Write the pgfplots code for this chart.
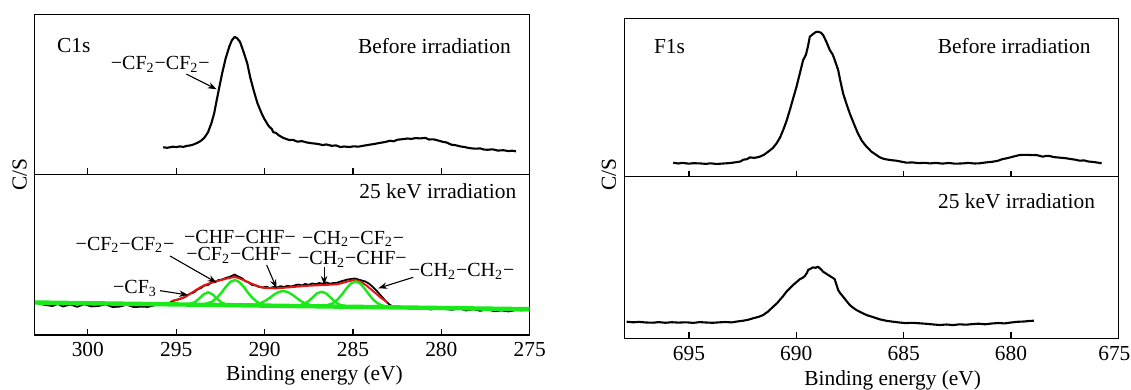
\documentclass[border=0pt]{standalone}
\usepackage{fontspec}
\setmainfont{Liberation Serif}
\usepackage{pgfplots}
\pgfplotsset{compat=1.18}
\usetikzlibrary{arrows.meta}
\definecolor{fitgreen}{RGB}{25,232,25}
\definecolor{fitred}{RGB}{232,20,20}
\newcommand{\fs}{\fontsize{10.7}{12.8}\selectfont}
\newcommand{\fc}{\fontsize{10}{12}\selectfont}
\tikzset{
  ann/.style={font=\fs},
  chem/.style={font=\fc, inner sep=0pt},
  arr/.style={-{Stealth[length=4.5pt,width=3.2pt]}, line width=0.55pt},
}
\pgfplotsset{
  panel/.style={
    scale only axis,
    anchor=north west,
    axis line style={line width=0.7pt},
    ytick=\empty,
    tick style={line width=0.6pt, black},
    major tick length=3pt,
    tick align=inside,
    xtick pos=bottom,
    x dir=reverse,
    /pgf/number format/assume math mode=true,
    tick label style={font=\fs},
    label style={font=\fs},
    xticklabel style={anchor=base, yshift=-10.85pt},
  },
  leftp/.style={panel, width=247.45pt, xmin=275, xmax=303, xtick={300,295,290,285,280,275}},
  rightp/.style={panel, width=246.95pt, xmin=675, xmax=698, xtick={695,690,685,680,675}},
  dat/.style={black, line width=1.05pt, line join=round},
}
\begin{document}
\begin{tikzpicture}
\path[use as bounding box] (0,0) rectangle (565.5pt,-195pt);

% ---------------- C1s before ----------------
\begin{axis}[leftp, at={(17.4pt,-7.35pt)}, height=79.8pt, ymin=0, ymax=159.6, xticklabels={}]
\addplot[dat] coordinates {
(295.74,27.0)(295.5,26.5)(295.2,27.6)(295.0,27.2)(294.8,27.9)(294.6,27.4)(294.4,28.4)(294.2,28.9)
(294.02,29.8)(293.8,31.5)(293.6,33.5)(293.41,36.5)(293.2,42)(293.01,51)(292.85,61)(292.71,74)
(292.55,88)(292.4,101)(292.2,116)(291.99,128)(291.85,134)(291.69,137.5)(291.55,136)(291.39,132.5)
(291.2,123)(290.98,111)(290.8,96)(290.57,81)(290.4,71)(290.17,61)(290.0,55)(289.76,48)(289.6,45.5)
(289.5,42)(289.36,41.5)(289.2,39)(288.95,36.5)(288.8,35.5)(288.6,34.2)(288.4,34.5)(288.14,32.6)
(287.9,33.2)(287.6,31.8)(287.3,31.0)(287.0,30.4)(286.72,29.3)(286.5,29.8)(286.2,28.5)(285.95,28.9)
(285.71,27.2)(285.5,27.8)(285.2,27.3)(284.95,28.0)(284.70,27.6)(284.4,28.6)(284.1,29.5)(283.8,30.3)
(283.48,31.4)(283.2,32.2)(282.9,33.6)(282.7,33.0)(282.47,34.6)(282.2,35.1)(281.9,35.8)(281.7,35.4)
(281.45,36.2)(281.2,35.9)(280.9,36.4)(280.7,34.8)(280.44,35.0)(280.2,33.9)(279.9,32.4)(279.7,31.8)
(279.43,29.6)(279.2,29.1)(278.9,27.8)(278.7,27.3)(278.41,26.2)(278.1,25.6)(277.8,25.9)(277.6,24.8)
(277.39,24.5)(277.1,25.0)(276.8,23.7)(276.5,24.1)(276.2,23.2)(276.0,23.6)(275.78,23.0)
};
\node[ann, anchor=base west] at (axis description cs:0.0307,0.766) {C1s};
\node[ann, anchor=base east] at (axis description cs:0.976,0.756) {Before irradiation};
\node[chem, anchor=base] at (axis cs:295.9,104.8) {−CF\textsubscript{2}−CF\textsubscript{2}−};
\draw[arr] (axis cs:294.43,100.3) -- (axis cs:292.71,85);
\end{axis}

% ---------------- C1s after ----------------
\begin{axis}[leftp, at={(17.4pt,-87.15pt)}, height=80.35pt, ymin=0, ymax=160.7,
  xlabel={Binding energy (eV)},
  xlabel style={at={(axis description cs:0.565,0)}, anchor=base, yshift=-22.5pt}]
\addplot[dat, line width=0.9pt] coordinates {
(302.8,31.5)(302.4,30.0)(302.0,29.0)(301.7,31.0)(301.4,28.5)(301.0,30.5)(300.6,28.2)(300.2,30.8)
(299.8,28.6)(299.4,29.0)(299.0,30.6)(298.6,28.0)(298.2,28.4)(297.8,30.2)(297.4,27.9)(297.0,28.3)
(296.6,28.1)(296.2,29.8)(295.8,30.6)(295.4,32.0)(295.1,34.5)(294.8,36.0)(294.5,38.0)(294.2,41.5)
(294.0,42.5)(293.8,45.5)(293.6,47.0)(293.4,49.5)(293.2,50.0)(293.0,52.5)(292.8,53.0)(292.6,55.0)
(292.4,55.5)(292.2,57.0)(292.0,58.0)(291.8,59.5)(291.7,60.5)(291.5,58.5)(291.3,57.0)(291.1,54.0)
(290.9,52.5)(290.7,50.0)(290.5,49.5)(290.3,48.0)(290.1,47.5)(289.9,48.2)(289.7,47.0)(289.5,48.0)
(289.3,47.5)(289.1,48.8)(288.9,48.0)(288.7,49.2)(288.5,48.5)(288.3,49.5)(288.1,50.5)(287.9,49.6)
(287.7,51.0)(287.5,50.2)(287.3,51.5)(287.1,50.8)(286.9,52.0)(286.7,51.2)(286.5,52.5)(286.3,51.3)
(286.1,52.0)(285.9,52.2)(285.7,53.5)(285.5,54.5)(285.3,55.5)(285.1,56.0)(284.9,56.5)(284.7,55.5)
(284.5,54.5)(284.3,53.5)(284.1,51.5)(283.9,48.5)(283.7,45.0)(283.5,41.0)(283.3,37.0)(283.1,33.0)
(282.9,30.0)(282.6,27.5)(282.2,27.0)(281.8,27.8)(281.4,26.0)(281.0,27.4)(280.6,25.5)(280.2,27.0)
(279.8,26.0)(279.4,25.2)(279.0,26.6)(278.6,24.5)(278.2,25.8)(277.8,24.2)(277.4,25.5)(277.0,23.8)
(276.6,24.5)(276.2,23.6)(275.8,24.8)(275.4,24.6)
};
\addplot[fitred, line width=1pt, line join=round] coordinates {
(295.26,34)(294.9,35.5)(294.6,37.3)(294.3,40.2)(294.03,43.3)(293.75,46.4)(293.47,49.3)(293.15,51.5)
(292.81,53.3)(292.5,54.8)(292.24,56)(291.95,57.2)(291.68,58)(291.45,56.8)(291.2,55)(290.92,52.8)
(290.64,50.7)(290.36,48.8)(290.08,47.3)(289.7,46.8)(289.32,46.7)(288.95,47.2)(288.57,47.7)
(288.2,48.3)(287.81,49)(287.25,49.5)(286.68,50)(286.3,50.3)(285.92,50.7)(285.64,51.8)(285.36,53.3)
(285.1,54.4)(284.89,55)(284.65,53.8)(284.42,51.7)(284.2,49)(284.0,46)(283.8,43)(283.6,40)
(283.4,37)(283.2,34.5)(283.05,32.5)
};
\addplot[fitgreen, line width=2.2pt] coordinates {(303,32.5)(275,25.8)};
\addplot[fitgreen, line width=1.2pt, line join=round] coordinates {
(294.49,30.6)(294.19,31.2)(293.94,33.0)(293.69,36.6)(293.44,40.8)(293.19,42.7)(292.94,40.6)
(292.69,36.3)(292.44,32.6)(292.19,30.7)(291.89,30.0)};
\addplot[fitgreen, line width=1.2pt, line join=round] coordinates {
(293.78,30.4)(293.38,30.9)(292.98,33.2)(292.68,37.4)(292.43,42.6)(292.18,48.4)(291.93,53.2)
(291.68,55.0)(291.43,53.0)(291.18,48.2)(290.93,42.2)(290.68,36.9)(290.38,32.6)(289.98,30.1)(289.58,29.4)};
\addplot[fitgreen, line width=1.2pt, line join=round] coordinates {
(291.04,29.8)(290.64,30.2)(290.24,31.8)(289.94,34.4)(289.69,37.4)(289.44,40.7)(289.19,43.1)
(288.94,44.0)(288.69,43.0)(288.44,40.4)(288.19,37.1)(287.94,33.9)(287.64,31.2)(287.24,29.4)(286.84,28.8)};
\addplot[fitgreen, line width=1.2pt, line join=round] coordinates {
(288.47,29.1)(288.07,29.5)(287.77,31.0)(287.52,33.8)(287.27,37.8)(287.02,41.7)(286.77,43.3)
(286.52,41.6)(286.27,37.6)(286.02,33.4)(285.77,30.5)(285.47,28.9)(285.07,28.3)};
\addplot[fitgreen, line width=1.2pt, line join=round] coordinates {
(286.95,28.8)(286.55,29.3)(286.15,31.6)(285.85,35.8)(285.60,41.0)(285.35,47.0)(285.10,51.7)
(284.85,53.6)(284.60,51.6)(284.35,46.7)(284.10,40.7)(283.85,35.3)(283.55,31.0)(283.15,28.5)(282.75,27.8)};
\node[ann, anchor=base east] at (axis description cs:0.987,0.848) {25 keV irradiation};
\node[chem, anchor=base] at (axis cs:297.89,85) {−CF\textsubscript{2}−CF\textsubscript{2}−};
\node[chem, anchor=base] at (axis cs:291.39,91.5) {−CHF−CHF−};
\node[chem, anchor=base] at (axis cs:291.45,74.2) {−CF\textsubscript{2}−CHF−};
\node[chem, anchor=base] at (axis cs:297.33,41.3) {−CF\textsubscript{3}};
\node[chem, anchor=base] at (axis cs:284.99,91) {−CH\textsubscript{2}−CF\textsubscript{2}−};
\node[chem, anchor=base] at (axis cs:285.03,70.5) {−CH\textsubscript{2}−CHF−};
\node[chem, anchor=base] at (axis cs:278.85,59) {−CH\textsubscript{2}−CH\textsubscript{2}−};
\draw[arr] (axis cs:295.91,44.3) -- (axis cs:294.32,40);
\draw[arr] (axis cs:295.35,79) -- (axis cs:292.71,52.3);
\draw[arr] (axis cs:289.88,70) -- (axis cs:289.32,46.7);
\draw[arr] (axis cs:286.63,68.3) -- (axis cs:286.63,50);
\draw[arr] (axis cs:281.59,57.7) -- (axis cs:283.57,46.7);
\end{axis}

% ---------------- F1s before ----------------
\begin{axis}[rightp, at={(312.25pt,-9.15pt)}, height=79.2pt, ymin=0, ymax=158.4, xticklabels={}]
\addplot[dat] coordinates {
(695.73,14.0)(695.5,13.2)(695.3,13.8)(695.0,13.0)(694.8,13.5)(694.49,13.3)(694.2,12.8)(694.0,13.4)
(693.71,12.7)(693.4,13.2)(693.1,13.6)(692.8,14.5)(692.6,15.2)(692.47,17.0)(692.3,17.5)(692.16,19.3)
(691.95,18.8)(691.70,20.0)(691.5,22.0)(691.31,25.0)(691.1,28.5)(690.92,33.3)(690.75,39.5)(690.61,46.7)
(690.45,56)(690.30,66.7)(690.15,78)(689.99,90)(689.85,102)(689.68,116.7)(689.55,122)(689.45,131)
(689.37,140)(689.22,142.7)(689.1,144.5)(688.99,145)(688.85,144)(688.75,141.7)(688.6,135)(688.44,126.7)
(688.3,122)(688.21,116.7)(688.05,106.7)(687.95,96)(687.82,83.3)(687.65,72)(687.51,63.3)(687.3,52)
(687.13,43.3)(686.95,36)(686.73,30)(686.5,25)(686.27,21.7)(686.12,19.5)(685.95,18.0)(685.80,17.3)
(685.6,16.6)(685.34,16.0)(685.1,15.0)(684.87,14.0)(684.6,14.3)(684.3,13.6)(684.0,13.9)(683.79,13.3)
(683.5,13.8)(683.2,13.1)(682.9,13.7)(682.6,13.0)(682.24,13.3)(682.0,13.8)(681.7,13.2)(681.47,13.4)
(681.2,14.2)(680.85,15.0)(680.6,16.0)(680.4,17.6)(680.22,18.3)(680.0,19.5)(679.8,20.6)(679.60,21.7)
(679.3,21.9)(679.0,21.6)(678.83,21.7)(678.65,20.8)(678.52,20.0)(678.35,20.9)(678.21,20.7)(678.0,19.6)
(677.8,19.2)(677.6,18.8)(677.43,18.4)(677.2,17.6)(677.0,17.0)(676.81,16.0)(676.6,16.3)(676.4,15.2)
(676.2,14.8)(676.0,14.2)(675.78,13.4)
};
\node[ann, anchor=base west] at (axis description cs:0.0456,0.776) {F1s};
\node[ann, anchor=base east] at (axis description cs:0.958,0.776) {Before irradiation};
\end{axis}

% ---------------- F1s after ----------------
\begin{axis}[rightp, at={(312.25pt,-88.35pt)}, height=80.8pt, ymin=0, ymax=161.6,
  xticklabels={695,690,685,680,\kern-4pt 675},
  xlabel={Binding energy (eV)},
  xlabel style={at={(axis description cs:0.543,0)}, anchor=base, yshift=-23.5pt}]
\addplot[dat] coordinates {
(697.90,16.6)(697.6,16.0)(697.3,16.4)(697.0,15.8)(696.66,15.6)(696.4,16.2)(696.1,15.5)(695.8,16.1)
(695.5,15.7)(695.11,16.0)(694.8,15.4)(694.5,16.2)(694.2,15.8)(693.9,15.5)(693.56,16.0)(693.3,16.3)
(693.0,15.9)(692.75,16.8)(692.47,17.6)(692.25,18.5)(692.01,20.0)(691.75,21.5)(691.54,23.3)(691.3,27.0)
(691.08,31.6)(690.9,35.0)(690.77,38.3)(690.6,42.5)(690.46,46.6)(690.3,50.0)(690.15,53.3)(690.0,56.0)
(689.84,59.0)(689.7,60.5)(689.60,62.3)(689.5,65.5)(689.45,68.3)(689.3,70.0)(689.22,71.0)(689.1,70.5)
(688.99,71.6)(688.85,69.0)(688.75,66.6)(688.6,64.5)(688.44,62.3)(688.3,60.5)(688.21,59.0)(688.12,53.0)
(688.05,48.3)(687.95,45.0)(687.82,41.6)(687.65,37.0)(687.51,33.3)(687.35,30.5)(687.20,28.3)(686.95,25.5)
(686.73,23.3)(686.4,21.0)(686.12,19.0)(685.8,17.5)(685.50,16.6)(685.2,15.8)(684.9,15.2)(684.6,15.5)
(684.26,15.0)(684.0,14.6)(683.7,14.0)(683.33,13.3)(683.0,13.8)(682.7,13.2)(682.4,14.0)(682.1,13.6)
(681.8,14.2)(681.5,14.6)(681.2,14.0)(680.9,14.8)(680.6,15.3)(680.3,14.9)(680.0,15.8)(679.7,16.5)
(679.4,16.8)(679.1,17.4)(678.94,17.6)
};
\node[ann, anchor=base east] at (axis description cs:0.967,0.802) {25 keV irradiation};
\end{axis}

\node[font=\fs, rotate=90] at (9.85pt,-87.4pt) {C/S};
\node[font=\fs, rotate=90] at (304.5pt,-87.2pt) {C/S};
\end{tikzpicture}
\end{document}
